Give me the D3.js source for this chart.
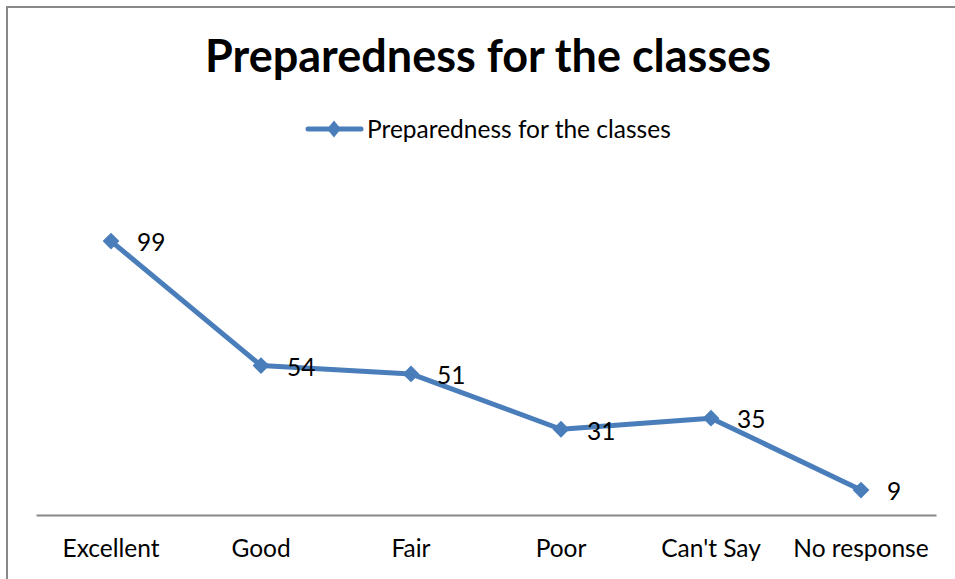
<!DOCTYPE html>
<html>
<head>
<meta charset="utf-8">
<script src="https://cdn.jsdelivr.net/npm/d3@7"></script>
<style>
  body { margin: 0; background: #fff; }
  svg { display: block; font-family: Lato, "Open Sans", sans-serif; }
</style>
</head>
<body>
<div id="chart"></div>
<script>
// Chart data
const categories = ['Excellent', 'Good', 'Fair', 'Poor', "Can't Say", 'No response'];
const values = [99, 54, 51, 31, 35, 9];
const seriesName = 'Preparedness for the classes';
const chartTitle = 'Preparedness for the classes';

const width = 955, height = 579;
const lineColor = '#4a7ebb';

const svg = d3.select('#chart')
    .append('svg')
    .attr('width', width)
    .attr('height', height);

// Outer chart border (cut off on right/bottom like the source)
svg.append('rect')
    .attr('x', 7).attr('y', 7)
    .attr('width', 980).attr('height', 600)
    .attr('fill', '#fff')
    .attr('stroke', '#888')
    .attr('stroke-width', 2);

// Plot area
const plot = { left: 36, right: 936, top: 183, bottom: 515 };

const x = d3.scaleBand()
    .domain(categories)
    .range([plot.left, plot.right]);

const y = d3.scaleLinear()
    .domain([0, 120])
    .range([plot.bottom, plot.top]);

// Title
svg.append('text')
    .attr('x', 488).attr('y', 72)
    .attr('text-anchor', 'middle')
    .attr('font-size', 45)
    .attr('font-weight', 'bold')
    .attr('fill', '#000')
    .text(chartTitle);

// Legend
const legend = svg.append('g').attr('transform', 'translate(306,129)');
legend.append('line')
    .attr('x1', 2).attr('x2', 55)
    .attr('stroke', lineColor).attr('stroke-width', 5)
    .attr('stroke-linecap', 'round');
legend.append('path')
    .attr('d', d3.symbol().type(d3.symbolDiamond2).size(150)())
    .attr('transform', 'translate(28,0) scale(0.9,1.1)')
    .attr('fill', lineColor);
legend.append('text')
    .attr('x', 61).attr('y', 0)
    .attr('dy', '0.36em')
    .attr('font-size', 24.5)
    .attr('fill', '#000')
    .text(seriesName);

// X axis
const xAxis = d3.axisBottom(x).tickSize(0).tickPadding(25);
const gx = svg.append('g')
    .attr('transform', `translate(0,${plot.bottom})`)
    .call(xAxis);
gx.select('.domain').attr('stroke', '#888').attr('stroke-width', 2);
gx.selectAll('text')
    .attr('font-size', 24.5)
    .attr('font-family', 'Lato, "Open Sans", sans-serif')
    .attr('fill', '#000');

// Line
const cx = d => x(d.cat) + x.bandwidth() / 2;
const pts = categories.map((c, i) => ({ cat: c, v: values[i] }));

svg.append('path')
    .datum(pts)
    .attr('fill', 'none')
    .attr('stroke', lineColor)
    .attr('stroke-width', 5)
    .attr('stroke-linejoin', 'round')
    .attr('d', d3.line().x(cx).y(d => y(d.v)));

// Diamond markers
svg.selectAll('.marker')
    .data(pts)
    .join('path')
    .attr('class', 'marker')
    .attr('d', d3.symbol().type(d3.symbolDiamond2).size(180)())
    .attr('transform', d => `translate(${cx(d)},${y(d.v)})`)
    .attr('fill', lineColor);

// Data labels
svg.selectAll('.dlabel')
    .data(pts)
    .join('text')
    .attr('class', 'dlabel')
    .attr('x', d => cx(d) + 26)
    .attr('y', d => y(d.v))
    .attr('dy', '0.42em')
    .attr('font-size', 24.5)
    .attr('fill', '#000')
    .text(d => d.v);
</script>
</body>
</html>
